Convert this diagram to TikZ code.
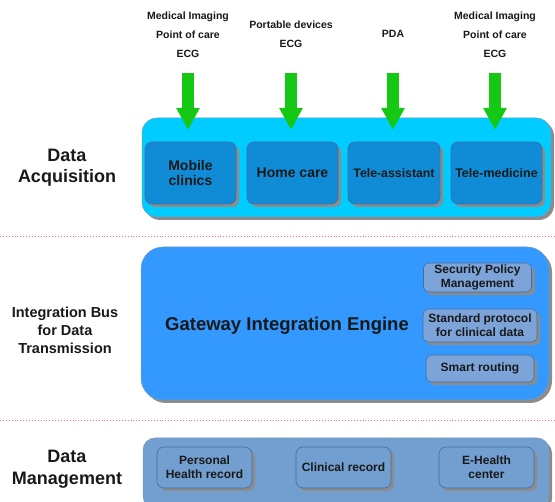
\documentclass[tikz,border=0pt]{standalone}
\usepackage{fontspec}
\setmainfont{Liberation Sans}
\usetikzlibrary{arrows.meta,shadows}
\definecolor{topbg}{RGB}{0,204,255}
\definecolor{topbox}{RGB}{16,140,214}
\definecolor{midbg}{RGB}{51,153,255}
\definecolor{midbox}{RGB}{124,164,216}
\definecolor{botbg}{RGB}{114,159,207}
\definecolor{edge}{RGB}{60,110,170}
\definecolor{garrowc}{RGB}{20,200,20}
\definecolor{sepred}{RGB}{245,110,110}
\definecolor{txt}{RGB}{25,25,25}
\begin{document}
\begin{tikzpicture}[x=1pt,y=-1pt,
  shad/.style={drop shadow={shadow xshift=3pt,shadow yshift=-3pt,fill=black!45,opacity=1}},
  container/.style={shad,draw=edge!70,line width=0.5pt,inner sep=0pt},
  inbox/.style={shad,draw=edge,line width=0.6pt,rounded corners=7pt,inner sep=1pt,align=center,
    text=txt,font=\bfseries\fontsize{14}{16}\selectfont},
  smallbox/.style={shad,draw=edge,line width=0.6pt,rounded corners=5pt,inner sep=1pt,align=center,
    fill=midbox,text=txt,font=\bfseries\fontsize{12}{14}\selectfont},
  toplabel/.style={align=center,text=txt,font=\bfseries\fontsize{10.5}{19}\selectfont},
  sidelabel/.style={align=center,text=txt},
  garrow/.style={draw=garrowc,line width=12pt,-{Triangle[width=22pt,length=22pt]}},
  sep/.style={draw=sepred,dotted,line width=0.9pt}]
\useasboundingbox (0,0) rectangle (555,502);
\clip (0,0) rectangle (555,502);
\fill[white] (0,0) rectangle (555,502);

% separators
\coordinate (s1l) at (0,236); \coordinate (s1r) at (555,236);
\coordinate (s2l) at (0,420); \coordinate (s2r) at (555,420);
\draw[sep] (s1l) -- (s1r);
\draw[sep] (s2l) -- (s2r);

% left labels
\node[sidelabel,font=\bfseries\fontsize{18}{21}\selectfont] (la) at (67,167.5) {Data\\Acquisition};
\node[sidelabel,font=\bfseries\fontsize{14.5}{18}\selectfont] (lb) at (65,330) {Integration Bus\\for Data\\Transmission};
\node[sidelabel,font=\bfseries\fontsize{18}{22}\selectfont] (lc) at (67,469) {Data\\Management};

% data acquisition
\node[container,fill=topbg,rounded corners=15pt,minimum width=409pt,minimum height=99pt] (acq) at (346.5,167.5) {};
\node[inbox,fill=topbox,minimum width=91pt,minimum height=62pt] (mc) at (190.5,173) {Mobile\\clinics};
\node[inbox,fill=topbox,minimum width=91pt,minimum height=62pt] (hc) at (292.5,173) {Home care};
\node[inbox,fill=topbox,minimum width=92pt,minimum height=62pt,font=\bfseries\fontsize{12.3}{14}\selectfont] (ta) at (394,173) {Tele-assistant};
\node[inbox,fill=topbox,minimum width=91pt,minimum height=62pt,font=\bfseries\fontsize{12.5}{14}\selectfont] (tm) at (496.5,173) {Tele-medicine};

% top labels
\node[toplabel] (t1) at (188,35) {Medical Imaging\\Point of care\\ECG};
\node[toplabel] (t2) at (291,34.5) {Portable devices\\ECG};
\node[toplabel] (t3) at (393,34) {PDA};
\node[toplabel] (t4) at (495,35) {Medical Imaging\\Point of care\\ECG};

% green arrows
\coordinate (a1s) at (188,73); \coordinate (a1e) at (188,130);
\coordinate (a2s) at (291,73); \coordinate (a2e) at (291,130);
\coordinate (a3s) at (393,73); \coordinate (a3e) at (393,130);
\coordinate (a4s) at (495,73); \coordinate (a4e) at (495,130);
\draw[garrow] (a1s) -- (a1e);
\draw[garrow] (a2s) -- (a2e);
\draw[garrow] (a3s) -- (a3e);
\draw[garrow] (a4s) -- (a4e);

% integration bus
\node[container,fill=midbg,rounded corners=22pt,minimum width=408pt,minimum height=153pt] (bus) at (345,323.5) {};
\node[text=txt,font=\bfseries\fontsize{18.5}{20}\selectfont] (gw) at (287,326) {Gateway Integration Engine};
\node[smallbox,minimum width=108pt,minimum height=29pt] (sp) at (477.5,277.5) {Security Policy\\Management};
\node[smallbox,minimum width=114pt,minimum height=33pt] (spc) at (480,325.5) {Standard protocol\\for clinical data};
\node[smallbox,minimum width=108pt,minimum height=27pt] (sr) at (480,368.5) {Smart routing};

% data management
\node[container,fill=botbg,rounded corners=12pt,minimum width=406pt,minimum height=70pt] (dm) at (346,473) {};
\node[smallbox,fill=botbg,rounded corners=7pt,minimum width=95pt,minimum height=41pt] (phr) at (204.5,467.5) {Personal\\Health record};
\node[smallbox,fill=botbg,rounded corners=7pt,minimum width=95pt,minimum height=41pt] (cr) at (343.5,467.5) {Clinical record};
\node[smallbox,fill=botbg,rounded corners=7pt,minimum width=95pt,minimum height=41pt] (eh) at (486.5,467.5) {E-Health\\center};
\end{tikzpicture}
\end{document}
